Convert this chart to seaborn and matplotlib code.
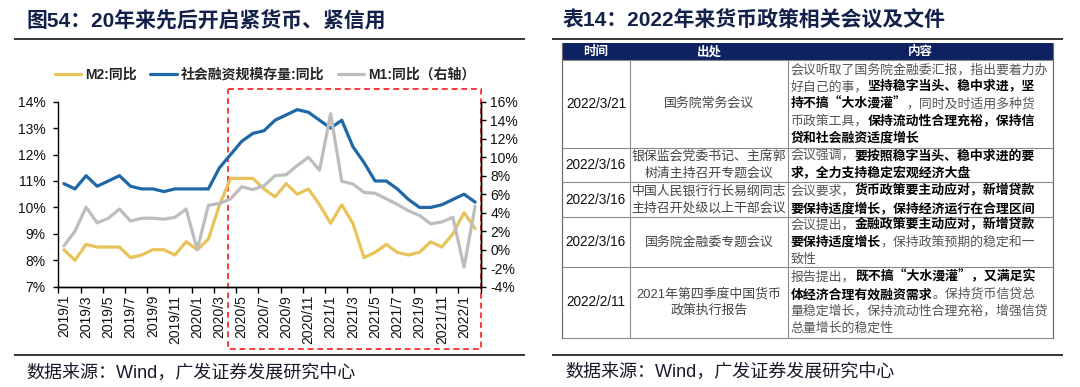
import numpy as np
import pandas as pd
import matplotlib
matplotlib.use('Agg')
import matplotlib.pyplot as plt
import matplotlib.transforms as mtransforms
from matplotlib.patches import Rectangle
from matplotlib.ticker import FixedLocator, FuncFormatter
import seaborn as sns

# ---------------- data ----------------
months = ['2019/1', '2019/2', '2019/3', '2019/4', '2019/5', '2019/6', '2019/7', '2019/8',
          '2019/9', '2019/10', '2019/11', '2019/12', '2020/1', '2020/2', '2020/3', '2020/4',
          '2020/5', '2020/6', '2020/7', '2020/8', '2020/9', '2020/10', '2020/11', '2020/12',
          '2021/1', '2021/2', '2021/3', '2021/4', '2021/5', '2021/6', '2021/7', '2021/8',
          '2021/9', '2021/10', '2021/11', '2021/12', '2022/1', '2022/2']
m2 = [8.4, 8.0, 8.6, 8.5, 8.5, 8.5, 8.1, 8.2, 8.4, 8.4, 8.2, 8.7, 8.4, 8.8,
      10.1, 11.1, 11.1, 11.1, 10.7, 10.4, 10.9, 10.5, 10.7, 10.1, 9.4, 10.1,
      9.4, 8.1, 8.3, 8.6, 8.3, 8.2, 8.3, 8.7, 8.5, 9.0, 9.8, 9.2]
tsf = [10.9, 10.7, 11.2, 10.8, 11.0, 11.2, 10.8, 10.7, 10.7, 10.6, 10.7, 10.7, 10.7, 10.7,
       11.5, 12.0, 12.5, 12.8, 12.9, 13.3, 13.5, 13.7, 13.6, 13.3, 13.0, 13.3,
       12.3, 11.7, 11.0, 11.0, 10.7, 10.3, 10.0, 10.0, 10.1, 10.3, 10.5, 10.2]
m1 = [0.4, 2.0, 4.6, 2.9, 3.4, 4.4, 3.1, 3.4, 3.4, 3.3, 3.5, 4.4, 0.0,
      4.8, 5.0, 5.5, 6.8, 6.5, 6.9, 8.0, 8.1, 9.1, 10.0, 8.6, 14.7, 7.4,
      7.1, 6.2, 6.1, 5.5, 4.9, 4.2, 3.7, 2.8, 3.0, 3.5, -1.9, 4.7]
series_labels = ['M2:同比', '社会融资规模存量:同比', 'M1:同比（右轴）']
left_ticks = [7, 8, 9, 10, 11, 12, 13, 14]
right_ticks = [-4, -2, 0, 2, 4, 6, 8, 10, 12, 14, 16]
highlight_start = '2020/4'

left_title = '图54：20年来先后开启紧货币、紧信用'
right_title = '表14：2022年来货币政策相关会议及文件'
source_note = '数据来源：Wind，广发证券发展研究中心'

tbl_header = ['时间', '出处', '内容']
tbl_dates = ['2022/3/21', '2022/3/16', '2022/3/16', '2022/3/16', '2022/2/11']
tbl_sources = [['国务院常务会议'],
               ['银保监会党委书记、主席郭', '树清主持召开专题会议'],
               ['中国人民银行行长易纲同志', '主持召开处级以上干部会议'],
               ['国务院金融委专题会议'],
               ['2021年第四季度中国货币', '政策执行报告']]
tbl_content = [
    [[('会议听取了国务院金融委汇报，指出要着力办', 0)],
     [('好自己的事，', 0), ('坚持稳字当头、稳中求进，坚', 1)],
     [('持不搞“大水漫灌”', 1), ('，同时及时适用多种货', 0)],
     [('币政策工具，', 0), ('保持流动性合理充裕，保持信', 1)],
     [('贷和社会融资适度增长', 1)]],
    [[('会议强调，', 0), ('要按照稳字当头、稳中求进的要', 1)],
     [('求，全力支持稳定宏观经济大盘', 1)]],
    [[('会议要求，', 0), ('货币政策要主动应对，新增贷款', 1)],
     [('要保持适度增长，保持经济运行在合理区间', 1)]],
    [[('会议提出，', 0), ('金融政策要主动应对，新增贷款', 1)],
     [('要保持适度增长', 1), ('，保持政策预期的稳定和一', 0)],
     [('致性', 0)]],
    [[('报告提出，', 0), ('既不搞“大水漫灌”，又满足实', 1)],
     [('体经济合理有效融资需求', 1), ('。保持货币信贷总', 0)],
     [('量稳定增长，保持流动性合理充裕，增强信贷', 0)],
     [('总量增长的稳定性', 0)]],
]

# ---------------- style ----------------
sns.set_theme(style='ticks')
plt.rcParams['font.family'] = ['Liberation Sans', 'Noto Sans CJK SC', 'DejaVu Sans']
plt.rcParams['axes.unicode_minus'] = False
CJK = ['Noto Sans CJK SC', 'DejaVu Sans']
C_M2, C_TSF, C_M1 = '#E8C35A', '#1F67A6', '#BDBDBD'
NAVY = '#13214A'

W, H = 1080, 387
fig = plt.figure(figsize=(W / 100, H / 100), dpi=100)
fx = lambda x: x / W
fy = lambda y: 1 - y / H

# overlay axes in pixel coordinates for titles, rules, table
tab = fig.add_axes([0, 0, 1, 1])
tab.set_xlim(0, W)
tab.set_ylim(H, 0)
tab.axis('off')

# ---------------- chart ----------------
L, R, T, B = 58.3, 480.7, 101.7, 286.7
ax = fig.add_axes([fx(L), fy(B), fx(R) - fx(L), fy(T) - fy(B)])
ax2 = ax.twinx()
df = pd.DataFrame({'idx': np.arange(len(months)), 'm2': m2, 'tsf': tsf, 'm1': m1})
sns.lineplot(data=df, x='idx', y='m2', ax=ax, color=C_M2, lw=2.3, label=series_labels[0])
sns.lineplot(data=df, x='idx', y='tsf', ax=ax, color=C_TSF, lw=2.3, label=series_labels[1])
sns.lineplot(data=df, x='idx', y='m1', ax=ax2, color=C_M1, lw=2.3, label=series_labels[2])
h1, l1 = ax.get_legend_handles_labels()
h2, l2 = ax2.get_legend_handles_labels()
ax.get_legend().remove()
ax2.get_legend().remove()

ax.set_xlim(-0.5, len(months) - 0.5)
ax.set_ylim(left_ticks[0], left_ticks[-1])
ax2.set_ylim(right_ticks[0], right_ticks[-1])
ax.set_xlabel('')
ax.set_ylabel('')
ax2.set_ylabel('')

ax.set_xticks(np.arange(0, len(months), 2))
ax.set_xticklabels(months[::2], rotation=90)
ax.xaxis.set_minor_locator(FixedLocator(np.arange(-0.5, len(months), 2)))
ax.set_yticks(left_ticks)
ax.yaxis.set_major_formatter(FuncFormatter(lambda v, p: f'{v:.0f}%'))
ax2.set_yticks(right_ticks)
ax2.yaxis.set_major_formatter(FuncFormatter(lambda v, p: f'{v:.0f}%'))

tc = '#111111'
ax.tick_params(axis='x', which='major', length=0, pad=6, labelsize=10, labelcolor=tc)
ax.tick_params(axis='x', which='minor', length=4, width=1, color='black', direction='out')
ax.tick_params(axis='y', length=3.5, width=1, color='black', pad=5.5, labelsize=10, labelcolor=tc)
ax2.tick_params(axis='y', length=3.5, width=1, color='black', pad=3.5, labelsize=10, labelcolor=tc)
for a in (ax, ax2):
    a.spines['top'].set_visible(False)
    for s in ('left', 'right', 'bottom'):
        a.spines[s].set_color('black')
        a.spines[s].set_linewidth(1.0)
ax2.spines['left'].set_visible(False)
ax.patch.set_alpha(0)

fig.legend(h1 + h2, l1 + l2, loc='center left', bbox_to_anchor=(fx(55), fy(75)),
           ncol=3, frameon=False, handlelength=1.9, handletextpad=0.3,
           columnspacing=0.95, borderaxespad=0, borderpad=0,
           prop={'size': 10, 'weight': 'bold'})

# red dashed highlight box (x in data units, y in pixels)
trans = mtransforms.blended_transform_factory(ax.transData, tab.transData)
x0 = months.index(highlight_start) - 0.23
tab.add_patch(Rectangle((x0, 89), (len(months) - 0.5) - x0, 260, transform=trans,
                        fill=False, edgecolor='#FF3B3B', lw=1.4, linestyle=(0, (3, 2)),
                        clip_on=False, zorder=10))

# ---------------- titles, rules, notes ----------------
tab.text(27, 21, left_title, fontsize=15, fontweight='bold', color=NAVY, va='center', ha='left')
tab.text(563, 21, right_title, fontsize=15, fontweight='bold', color=NAVY, va='center', ha='left')
for (xa, xb) in ((14, 525), (552, 1063)):
    tab.plot([xa, xb], [38.5, 38.5], color='black', lw=1.1, solid_capstyle='butt')
    tab.plot([xa, xb], [355, 355], color='black', lw=1.1, solid_capstyle='butt')
tab.text(26, 373, source_note, fontsize=13, color='#1a1a2a', va='center', ha='left')
tab.text(565, 372, source_note, fontsize=13, color='#1a1a2a', va='center', ha='left')

# ---------------- table ----------------
cols = [562, 630, 788, 1053]
rows = [43, 59.5, 148, 182, 217, 267, 338]
pitch = 17.0
fs = 9.3
tab.add_patch(Rectangle((cols[0], rows[0]), cols[-1] - cols[0], rows[1] - rows[0],
                        facecolor='#0E2160', edgecolor='none'))
gc = '#8a8a8a'
for y in rows[1:]:
    tab.plot([cols[0], cols[-1]], [y, y], color=gc, lw=0.8)
for x in cols[1:-1]:
    tab.plot([x, x], [rows[1], rows[-1]], color=gc, lw=0.8)
for x in (cols[0], cols[-1]):
    tab.plot([x, x], [rows[0], rows[-1]], color='#6f6f6f', lw=0.9)
for i, h in enumerate(tbl_header):
    tab.text((cols[i] + cols[i + 1]) / 2, (rows[0] + rows[1]) / 2 + 0.5, h, color='white',
             fontsize=9, fontweight='bold', ha='center', va='center', family=CJK)


def seg_line(x, y, segs):
    prev = None
    for txt, bold in segs:
        kw = dict(fontsize=fs, fontweight='bold' if bold else 'normal',
                  color='#000000' if bold else '#555555', family=CJK)
        if prev is None:
            prev = tab.text(x, y, txt, ha='left', va='center', **kw)
        else:
            prev = tab.annotate(txt, xy=(1, 0), xycoords=prev, ha='left', va='bottom',
                                annotation_clip=False, **kw)


for r in range(len(tbl_dates)):
    yc = (rows[r + 1] + rows[r + 2]) / 2
    tab.text((cols[0] + cols[1]) / 2, yc, tbl_dates[r], fontsize=9.8, color='#111111',
             ha='center', va='center')
    src = tbl_sources[r]
    for k, s in enumerate(src):
        yy = yc + (k - (len(src) - 1) / 2) * pitch
        tab.text((cols[1] + cols[2]) / 2, yy, s, fontsize=fs, color='#444444',
                 ha='center', va='center')
    lines = tbl_content[r]
    for k, segs in enumerate(lines):
        yy = yc + (k - (len(lines) - 1) / 2) * pitch
        seg_line(cols[2] + 2.5, yy, segs)

fig.savefig('out.png', dpi=100)
